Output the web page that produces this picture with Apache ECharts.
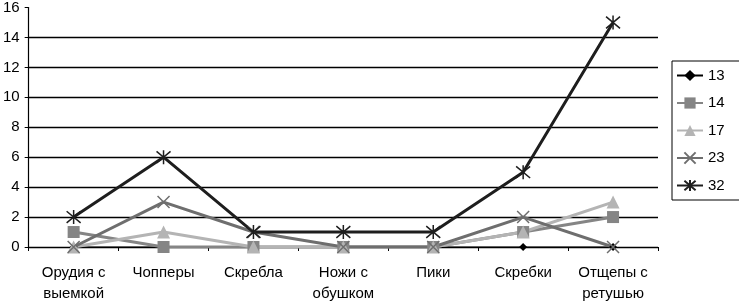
<!DOCTYPE html>
<html><head><meta charset="utf-8">
<script src="https://cdn.jsdelivr.net/npm/echarts@6/dist/echarts.min.js"></script>
<style>html,body{margin:0;padding:0;background:#fff}#c{width:739px;height:304px}</style>
</head><body><div id="c"></div>
<script>
const categories = ["Орудия с\nвыемкой", "Чопперы", "Скребла", "Ножи с\nобушком", "Пики", "Скребки", "Отщепы с\nретушью"];
const seriesNames = ["13", "14", "17", "23", "32"];
const s13 = [0, 0, 0, 0, 0, 0, 0];
const s14 = [1, 0, 0, 0, 0, 1, 2];
const s17 = [0, 1, 0, 0, 0, 1, 3];
const s23 = [0, 3, 1, 0, 0, 2, 0];
const s32 = [2, 6, 1, 1, 1, 5, 15];
const yTicks = [0, 2, 4, 6, 8, 10, 12, 14, 16];

const X_PATH = 'path://M0,0L10,10M10,0L0,10';
const STAR_PATH = 'path://M0,0L10,10M10,0L0,10M5,-1L5,11';
const font = 'Liberation Sans, Arial, sans-serif';

function mk(name, data, color, width, symbol, size, stroke) {
  return {
    name, type: 'line', data, symbol, symbolSize: size,
    lineStyle: { color, width },
    itemStyle: stroke ? { color: color, borderColor: color, borderWidth: 1.5 } : { color },
    emphasis: { disabled: true }, animation: false
  };
}

const chart = echarts.init(document.getElementById('c'));
chart.setOption({
  animation: false,
  textStyle: { fontFamily: font },
  grid: { left: 28, right: 81, top: 7, bottom: 53 },
  legend: {
    orient: 'vertical', left: 672, top: 61,
    data: seriesNames,
    itemWidth: 26, itemHeight: 14, itemGap: 12.5,
    padding: [7, 30, 7, 4],
    borderColor: '#000', borderWidth: 1,
    textStyle: { fontFamily: font, fontSize: 15, color: '#000' }
  },
  xAxis: {
    type: 'category', data: categories, boundaryGap: true,
    axisLine: { lineStyle: { color: '#000', width: 1.2 } },
    axisTick: { show: true, length: 4, lineStyle: { color: '#000' } },
    axisLabel: { color: '#000', fontSize: 15, fontFamily: font, lineHeight: 21, margin: 15, interval: 0 }
  },
  yAxis: {
    type: 'value', min: 0, max: 16, interval: 2,
    axisLine: { show: true, lineStyle: { color: '#000', width: 1.2 } },
    axisTick: { show: true, length: 4, lineStyle: { color: '#000' } },
    axisLabel: { color: '#000', fontSize: 15, fontFamily: font, margin: 9,
      formatter: v => yTicks.includes(v) ? String(v) : '' },
    splitLine: { show: true, lineStyle: { color: ['#000','#000','#000','#000','#000','#000','#000','#000','rgba(0,0,0,0)'], width: 1.3 } }
  },
  series: [
    mk('13', s13, '#000000', 1, 'diamond', 8, false),
    mk('14', s14, '#858585', 3, 'rect', 12, false),
    mk('17', s17, '#b4b4b4', 3, 'triangle', 13, false),
    mk('23', s23, '#6e6e6e', 3, X_PATH, 12, true),
    mk('32', s32, '#1e1e1e', 3, STAR_PATH, 14, true)
  ]
});
</script></body></html>
